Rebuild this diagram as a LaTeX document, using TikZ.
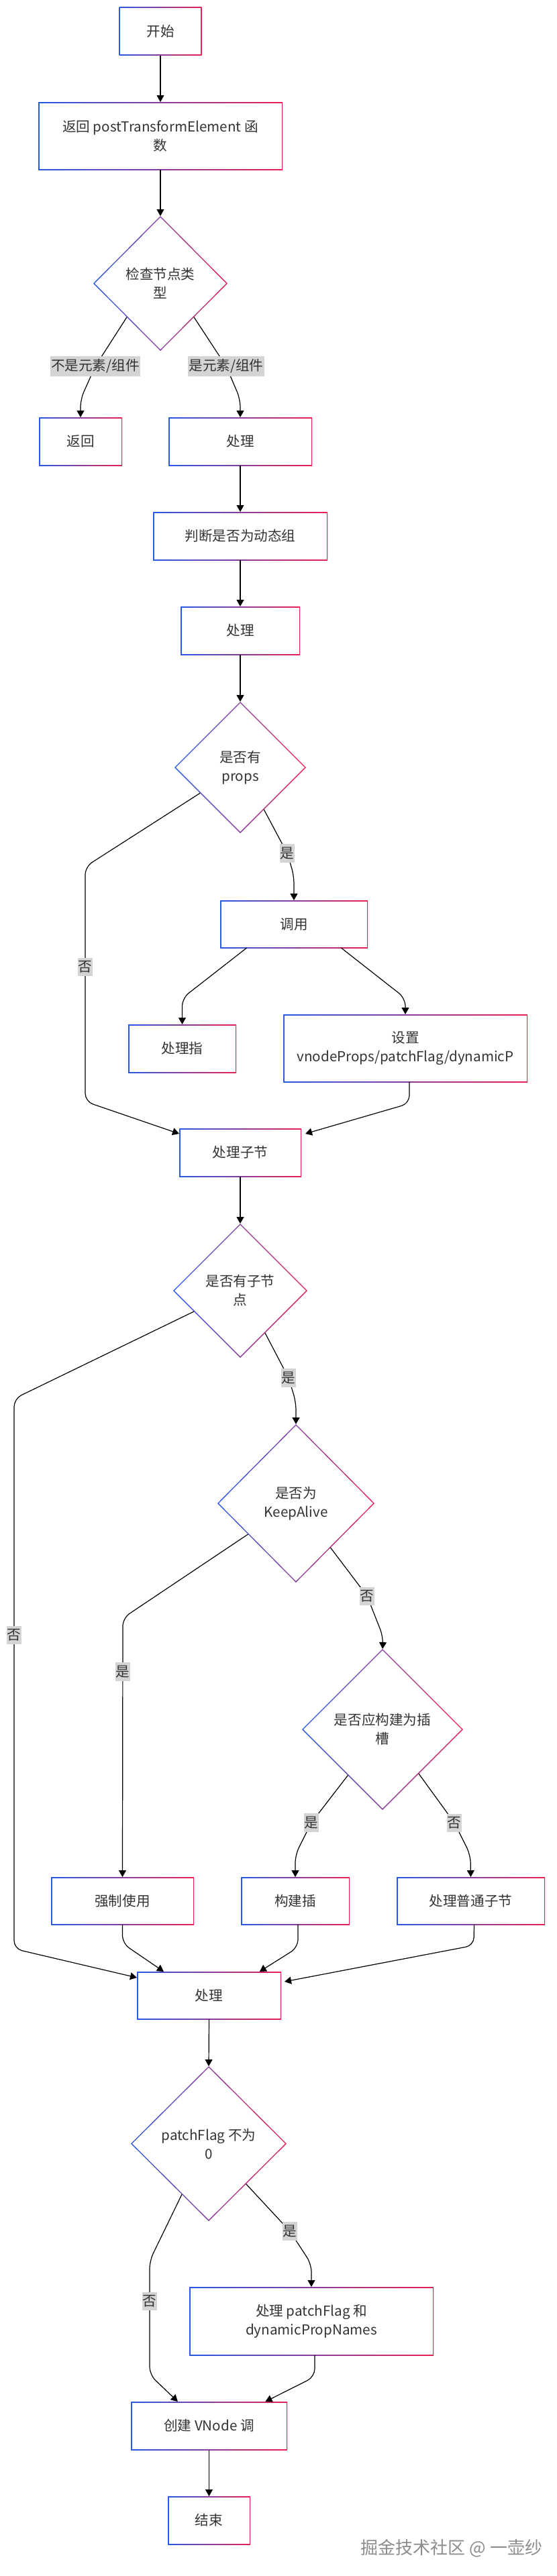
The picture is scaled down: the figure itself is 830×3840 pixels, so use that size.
\documentclass[tikz,border=0pt]{standalone}
\usepackage{fontspec}
\setmainfont{Noto Sans CJK SC}
\usetikzlibrary{shapes.geometric,arrows.meta,calc}
\definecolor{bL}{RGB}{40,90,230}
\definecolor{rR}{RGB}{232,32,84}
\definecolor{txt}{RGB}{51,51,51}
\definecolor{labg}{RGB}{212,212,212}
\definecolor{wmk}{RGB}{140,140,140}
\newcommand{\brdw}{0.75pt}
\newcommand{\diaw}{1.05pt}
\newcommand{\nfont}{\fontsize{10.3pt}{14pt}\selectfont}
\begin{document}
\begin{tikzpicture}[x=0.5pt,y=-0.5pt,
  gbox/.style={shape=rectangle, left color=bL, right color=rR, inner sep=0pt, outer sep=0pt,
    text=txt, align=center, font=\nfont,
    path picture={\fill[white] ([xshift=\brdw,yshift=-\brdw]path picture bounding box.north west) rectangle ([xshift=-\brdw,yshift=\brdw]path picture bounding box.south east);}},
  gdia/.style={shape=diamond, aspect=1, left color=bL, right color=rR, inner sep=0pt, outer sep=0pt,
    text=txt, align=center, font=\nfont,
    path picture={\fill[white] ([yshift=-\diaw]path picture bounding box.north) -- ([xshift=-\diaw]path picture bounding box.east) -- ([yshift=\diaw]path picture bounding box.south) -- ([xshift=\diaw]path picture bounding box.west) -- cycle;}},
  elab/.style={fill=labg, inner xsep=0.5pt, inner ysep=2.3pt, outer sep=0pt, text=txt, font=\nfont},
  arr/.style={draw=black, line width=0.6pt, -{Triangle[length=5pt,width=5.5pt]}, rounded corners=6pt},
]
\useasboundingbox (0,0) rectangle (830,3840);

% nodes
\node[gbox, minimum width=61.5pt, minimum height=36pt] (start) at (239,46.5) {开始};
\node[gbox, minimum width=182pt, minimum height=50.5pt] (ret0) at (239,202.5) {返回 postTransformElement 函\\数};
\node[gdia, minimum width=100pt, minimum height=100.5pt] (d1) at (239,422.5) {检查节点类\\型};
\node[gbox, minimum width=62pt, minimum height=36pt] (retb) at (120,658) {返回};
\node[gbox, minimum width=107pt, minimum height=36pt] (proc1) at (358,658) {处理};
\node[gbox, minimum width=130pt, minimum height=36pt] (judge) at (358,799) {判断是否为动态组};
\node[gbox, minimum width=89pt, minimum height=36pt] (proc2) at (358,940) {处理};
\node[gdia, minimum width=98pt, minimum height=98pt] (d2) at (358,1144) {是否有\\props};
\node[gbox, minimum width=110pt, minimum height=35.5pt] (call) at (438,1377.5) {调用};
\node[gbox, minimum width=80.5pt, minimum height=36pt] (zl) at (271.5,1563) {处理指};
\node[gbox, minimum width=182pt, minimum height=50.5pt] (set) at (604,1562.5) {设置\\vnodeProps/patchFlag/dynamicP};
\node[gbox, minimum width=91pt, minimum height=36pt] (pc) at (358,1718) {处理子节};
\node[gdia, minimum width=100pt, minimum height=100pt] (d3) at (358,1924) {是否有子节\\点};
\node[gdia, minimum width=117pt, minimum height=118pt] (d4) at (441,2241) {是否为\\KeepAlive};
\node[gdia, minimum width=120pt, minimum height=120pt] (d5) at (570,2578) {是否应构建为插\\槽};
\node[gbox, minimum width=106.5pt, minimum height=35.5pt] (force) at (182.5,2833.5) {强制使用};
\node[gbox, minimum width=81pt, minimum height=35.5pt] (build) at (440,2833.5) {构建插};
\node[gbox, minimum width=110.5pt, minimum height=35.5pt] (normal) at (701.5,2833.5) {处理普通子节};
\node[gbox, minimum width=107.5pt, minimum height=35.5pt] (proc3) at (311.5,2974.5) {处理};
\node[gdia, minimum width=116pt, minimum height=115.5pt] (d6) at (311,3195.5) {patchFlag 不为\\0};
\node[gbox, minimum width=182pt, minimum height=51pt] (pf) at (464,3460) {处理 patchFlag 和\\dynamicPropNames};
\node[gbox, minimum width=116.5pt, minimum height=36pt] (vnode) at (311.5,3616) {创建 VNode 调};
\node[gbox, minimum width=61.5pt, minimum height=36pt] (endn) at (311.5,3757) {结束};

% edges
\draw[arr] (start.south) -- (ret0.north);
\draw[arr] (ret0.south) -- (d1.north);
\draw[arr] (d1.south west) -- (142,546) -- (120,595) -- (retb.north);
\draw[arr] (d1.south east) -- (337,546) -- (358,595) -- (proc1.north);
\draw[arr] (proc1.south) -- (judge.north);
\draw[arr] (judge.south) -- (proc2.north);
\draw[arr] (proc2.south) -- (d2.north);
\draw[arr] ($(d2.west)!0.39!(d2.south)$) -- (127,1292) -- (127,1642) -- ([yshift=-4pt]pc.north west);
\draw[arr] ($(d2.south)!0.36!(d2.east)$) -- (428,1272) -- (438,1305) -- (call.north);
\draw[arr] ($(call.south west)!0.18!(call.south east)$) -- (271.5,1488) -- (zl.north);
\draw[arr] ($(call.south west)!0.82!(call.south east)$) -- (604,1488) -- (set.north);
\draw[arr] ([xshift=3pt]set.south) -- (610,1645) -- ([xshift=3pt,yshift=-4pt]pc.north east);
\draw[arr] (pc.south) -- (d3.north);
\draw[arr] ($(d3.west)!0.31!(d3.south)$) -- (21,2085) -- (21,2905) -- ([yshift=-4.5pt]proc3.north west);
\draw[arr] ($(d3.south)!0.37!(d3.east)$) -- (430,2054) -- (441,2090) -- (d4.north);
\draw[arr] ($(d4.west)!0.39!(d4.south)$) -- (183,2412) -- (force.north);
\draw[arr] ($(d4.south)!0.44!(d4.east)$) -- (547,2379) -- (571,2440) -- (d5.north);
\draw[arr] ($(d5.west)!0.57!(d5.south)$) -- (464,2717) -- (440,2765) -- (build.north);
\draw[arr] ($(d5.south)!0.45!(d5.east)$) -- (677,2717) -- (701,2765) -- (normal.north);
\draw[arr] (force.south) -- (182.5,2897) -- ($(proc3.north west)!0.186!(proc3.north east)$);
\draw[arr] ([xshift=2pt]build.south) -- (444,2903) -- ($(proc3.north west)!0.85!(proc3.north east)$);
\draw[arr] ([xshift=2.5pt]normal.south) -- (706,2900) -- ([xshift=2.5pt,yshift=-7.5pt]proc3.north east);
\draw[arr] (proc3.south) -- (d6.north);
\draw[arr] ($(d6.west)!0.655!(d6.south)$) -- (223,3370) -- (223,3540) -- ($(vnode.north west)!0.30!(vnode.north east)$);
\draw[arr] ($(d6.south)!0.48!(d6.east)$) -- (432,3326) -- (464,3375) -- (pf.north);
\draw[arr] ([xshift=2.5pt]pf.south) -- (469,3543) -- ($(vnode.north west)!0.86!(vnode.north east)$);
\draw[arr] (vnode.south) -- (endn.north);

% edge labels
\node[elab] (lb1) at (142,546) {不是元素/组件};
\node[elab] (lb2) at (337,546) {是元素/组件};
\node[elab] (lb3) at (127,1441) {否};
\node[elab] (lb4) at (428,1272) {是};
\node[elab] (lb5) at (21,2437) {否};
\node[elab] (lb6) at (430,2054) {是};
\node[elab] (lb7) at (183,2492) {是};
\node[elab] (lb8) at (547,2379) {否};
\node[elab] (lb9) at (464,2717) {是};
\node[elab] (lb10) at (677,2717) {否};
\node[elab] (lb11) at (223,3430) {否};
\node[elab] (lb12) at (432,3326) {是};

% watermark
\node[font=\fontsize{13pt}{13pt}\selectfont, text=wmk, inner sep=0pt] (wm) at (673,3799) {掘金技术社区 @ 一壶纱};
\end{tikzpicture}
\end{document}
